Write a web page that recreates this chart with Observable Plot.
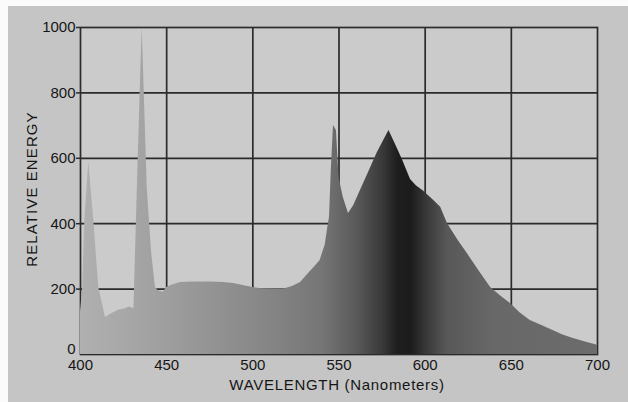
<!DOCTYPE html>
<html>
<head>
<meta charset="utf-8">
<script src="https://cdn.jsdelivr.net/npm/d3@7"></script>
<script src="https://cdn.jsdelivr.net/npm/@observablehq/plot@0.6"></script>
<style>
  html, body { margin: 0; padding: 0; }
  body {
    width: 628px; height: 402px; overflow: hidden;
    background:
      linear-gradient(#fbfbfb, #fbfbfb) top left / 100% 6px no-repeat,
      linear-gradient(#fbfbfb, #fbfbfb) top left / 8px 100% no-repeat,
      #c5c5c5;
  }
  svg { display: block; }
</style>
</head>
<body>
<div id="chart"></div>
<script>
// Wavelength (nm) and relative energy
const wavelength = [400, 401.3, 402.5, 404.8, 407.7, 410.6, 414.5, 418, 422, 426, 428.5, 431, 433, 434.5, 435.8, 437, 438.7, 441.3, 443.5, 445, 448, 450, 453, 458, 465, 475, 483, 489, 495, 500, 505, 512, 518, 523, 527.7, 531, 535, 539, 542, 543.5, 544.5, 545.5, 546.8, 548.5, 550, 552.5, 555.5, 558.5, 562.5, 567, 572, 576, 579, 583, 587, 591.5, 595, 599, 605, 609, 613, 619, 626, 632, 638, 644, 649.5, 655, 661, 668, 674.5, 680, 686, 693, 700];
const energy = [130, 205, 410, 588, 410, 205, 113, 125, 135, 140, 145, 140, 510, 780, 1000, 800, 510, 309, 205, 196, 190, 205, 212, 220, 222, 222, 220, 217, 210, 205, 201, 200, 200, 208, 220, 240, 263, 287, 335, 388, 420, 560, 700, 685, 541, 480, 431, 455, 502, 555, 615, 655, 685, 640, 593, 535, 515, 500, 471, 450, 400, 350, 297, 250, 205, 178, 156, 128, 104, 88, 73, 60, 49, 38, 28];
const xTicks = [400, 450, 500, 550, 600, 650, 700];
const yTicks = [0, 200, 400, 600, 800, 1000];
const xLabel = "WAVELENGTH (Nanometers)";
const yLabel = "RELATIVE ENERGY";

// gradient stops along the wavelength axis (nm -> grey)
const gradNm = [400, 430, 470, 510, 540, 560, 575, 584, 592, 600, 613, 640, 700];
const gradGrey = ["#b0b0b0", "#a6a6a6", "#969696", "#858585", "#767676", "#5a5a5a", "#3a3a3a", "#1e1e1e", "#1c1c1c", "#363636", "#585858", "#686868", "#6c6c6c"];

const data = wavelength.map((w, i) => ({w, e: energy[i]}));

const gridColor = "#2b2b2b";
const textColor = "#161616";

const plot = Plot.plot({
  width: 628,
  height: 402,
  marginLeft: 80,
  marginRight: 31,
  marginTop: 27,
  marginBottom: 48,
  style: {
    background: "transparent",
    fontFamily: "'Liberation Sans', Arial, Helvetica, sans-serif",
    fontSize: "15px",
    color: textColor
  },
  x: {domain: [400, 700]},
  y: {domain: [0, 1000]},
  marks: [
    (index, scales) => {
      const defs = d3.create("svg:defs");
      const lg = defs.append("linearGradient")
        .attr("id", "specGrad")
        .attr("gradientUnits", "userSpaceOnUse")
        .attr("x1", scales.x(400)).attr("x2", scales.x(700))
        .attr("y1", 0).attr("y2", 0);
      gradNm.forEach((nm, i) => {
        lg.append("stop")
          .attr("offset", (nm - 400) / 300)
          .attr("stop-color", gradGrey[i]);
      });
      return defs.node();
    },
    Plot.frame({fill: "#cbcbcb"}),
    Plot.ruleX(xTicks.slice(1, -1), {stroke: gridColor, strokeWidth: 1.7}),
    Plot.ruleY(yTicks.slice(1, -1), {stroke: gridColor, strokeWidth: 1.7}),
    Plot.frame({stroke: gridColor, strokeWidth: 1.7}),
    Plot.areaY(data, {x: "w", y: "e", fill: "url(#specGrad)"}),
    // y tick labels (the "0" sits a little higher in the reference)
    Plot.axisY(yTicks.filter(d => d !== 0), {
      tickSize: 4, tickPadding: 1, stroke: gridColor, strokeWidth: 1.5,
      tickFormat: d => String(d), label: null
    }),
    Plot.axisY([0], {
      tickSize: 0, tickPadding: 5, dy: -5,
      tickFormat: d => String(d), label: null
    }),
    Plot.axisX(xTicks, {
      tickSize: 0, tickPadding: 5,
      tickFormat: d => String(d), label: null
    }),
    Plot.text([xLabel], {
      text: d => d, frameAnchor: "bottom", dy: 31, dx: -2,
      textAnchor: "middle", lineAnchor: "middle", fontSize: 15, fill: textColor
    }),
    Plot.text([yLabel], {
      text: d => d, frameAnchor: "left", dx: -48, dy: -2, rotate: -90,
      textAnchor: "middle", lineAnchor: "middle", fontSize: 15, fill: textColor
    })
  ]
});

const texts = d3.select(plot).selectAll("text");
texts.filter(function () { return this.textContent === xLabel; }).style("letter-spacing", "0.7px");
texts.filter(function () { return this.textContent === yLabel; }).style("letter-spacing", "1.1px");

document.getElementById("chart").appendChild(plot);
</script>
</body>
</html>
